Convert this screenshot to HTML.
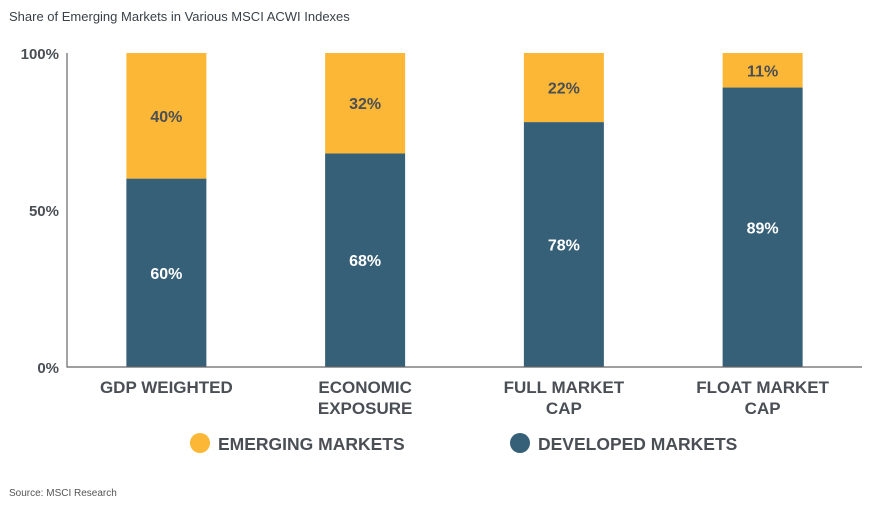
<!DOCTYPE html>
<html><head><meta charset="utf-8"><style>
html,body{margin:0;padding:0;background:#fff;}
svg{display:block;font-family:"Liberation Sans",sans-serif;}
</style></head><body>
<svg id="chart" width="878" height="511">
<text x="9" y="21" font-size="13" fill="#3a4148">Share of Emerging Markets in Various MSCI ACWI Indexes</text>
<text x="9" y="496" font-size="10" fill="#555">Source: MSCI Research</text>
<g id="plot"></g>
</svg>
<script>
const categories=[["GDP WEIGHTED"],["ECONOMIC","EXPOSURE"],["FULL MARKET","CAP"],["FLOAT MARKET","CAP"]];
const developed=[60,68,78,89];
const emerging=[40,32,22,11];
const yTicks=[0,50,100];
const NS="http://www.w3.org/2000/svg";
const g=document.getElementById('plot');
const x0=67,x1=862,y0=367,y1=53;
const y=v=>y0-(y0-y1)*v/100;
const band=(x1-x0)/categories.length;
const cx=i=>x0+band*(i+0.5);
function mk(t,a,txt){const e=document.createElementNS(NS,t);for(const k in a)e.setAttribute(k,a[k]);if(txt!=null)e.textContent=txt;g.appendChild(e);return e;}
yTicks.forEach(t=>{
 const e=mk('text',{x:59,y:y(t)+6,'text-anchor':'end','font-size':15,'font-weight':'bold',fill:'#4a4f55'},t+'%');
 
 
});
const bw=80;
categories.forEach((c,i)=>{
 const d=mk('rect',{x:cx(i)-bw/2,y:y(developed[i]),width:bw,height:y0-y(developed[i]),fill:'#365f78'});
 
 
 const em=mk('rect',{x:cx(i)-bw/2,y:y(developed[i]+emerging[i]),width:bw,height:y(developed[i])-y(developed[i]+emerging[i]),fill:'#fdb736'});
 
 
 const dl=mk('text',{x:cx(i),y:y(developed[i]*0.5)+6,'text-anchor':'middle','font-size':16,'font-weight':'bold',fill:'#fff'},developed[i]+'%');
 
 
 const el=mk('text',{x:cx(i),y:(y(developed[i])+y(developed[i]+emerging[i]))/2+6,'text-anchor':'middle','font-size':16,'font-weight':'bold',fill:'#4a4f55'},emerging[i]+'%');
 
 
 c.forEach((line,j)=>{
  const t=mk('text',{x:cx(i),y:393+j*21,'text-anchor':'middle','font-size':17,'font-weight':'bold',fill:'#4a4f55'},line);
  
  
 });
});
const ax=mk('path',{d:`M${x0} ${y1}V${y0}H${x1}`,fill:'none',stroke:'#666','stroke-width':1.2});


const legend=[["EMERGING MARKETS","#fdb736",200],["DEVELOPED MARKETS","#365f78",520]];
legend.forEach(l=>{
 const c=mk('circle',{cx:l[2],cy:443,r:10,fill:l[1]});
 
 
 const t=mk('text',{x:l[2]+18,y:450,'font-size':17.5,'font-weight':'bold',fill:'#4a4f55'},l[0]);
 
 
});
</script>
</body></html>
